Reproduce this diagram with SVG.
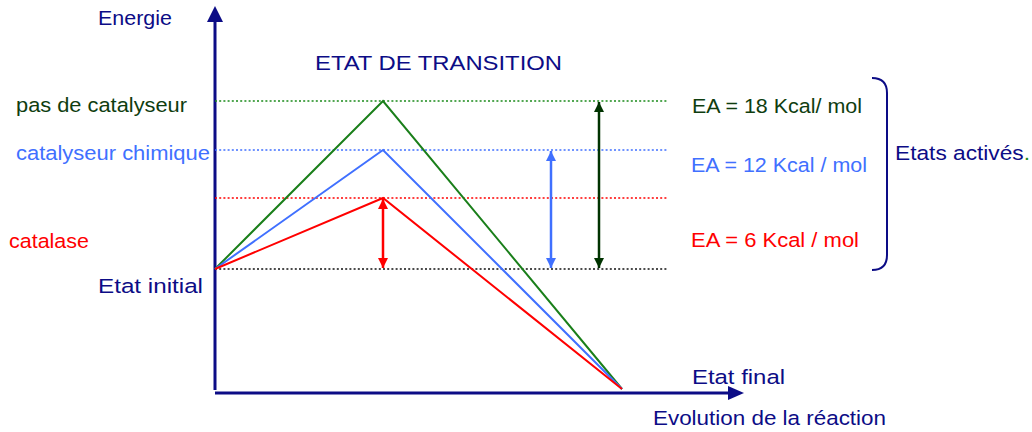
<svg xmlns="http://www.w3.org/2000/svg" width="1032" height="432" viewBox="0 0 1032 432">
<style>
text{font-family:"Liberation Sans","DejaVu Sans",sans-serif;font-size:20.5px}
.navy{fill:#0c0c86}.dg{fill:#0f3d0f}.bl{fill:#4070ff}.rd{fill:#ff0000}
.dot{stroke-width:1.6;stroke-dasharray:2,2.2;fill:none}
.ln{stroke-width:2;fill:none}
</style>
<defs>
<marker id="ar" viewBox="0 0 10 10" refX="10" refY="5" markerWidth="10" markerHeight="10" markerUnits="userSpaceOnUse" orient="auto-start-reverse"><path d="M0,0L10,5L0,10z" fill="#ff0000"/></marker>
<marker id="ab" viewBox="0 0 10 10" refX="10" refY="5" markerWidth="10" markerHeight="10" markerUnits="userSpaceOnUse" orient="auto-start-reverse"><path d="M0,0L10,5L0,10z" fill="#4070ff"/></marker>
<marker id="ag" viewBox="0 0 10 10" refX="10" refY="5" markerWidth="10" markerHeight="10" markerUnits="userSpaceOnUse" orient="auto-start-reverse"><path d="M0,0L10,5L0,10z" fill="#003300"/></marker>
</defs>
<g id="axes">
<line x1="215" y1="20" x2="215" y2="390" stroke="#0c0c86" stroke-width="3"/>
<path d="M215,6L223,22L207,22z" fill="#0c0c86"/>
<line x1="215" y1="393" x2="730" y2="393" stroke="#0c0c86" stroke-width="3"/>
<path d="M744,393L728,386L728,400z" fill="#0c0c86"/>
</g>
<g id="connectors">
<line class="dot" x1="215" y1="101" x2="668" y2="101" stroke="#1a8a1a"/>
<line class="dot" x1="215" y1="150" x2="668" y2="150" stroke="#4070ff"/>
<line class="dot" x1="215" y1="198" x2="668" y2="198" stroke="#ff0000"/>
<line class="dot" x1="215" y1="269" x2="668" y2="269" stroke="#111111"/>
<polyline class="ln" points="215,269 383,101 622,389" stroke="#1a7f1a"/>
<polyline class="ln" points="215,269 383,150 622,389" stroke="#4070ff"/>
<polyline class="ln" points="215,269 383,198 622,389" stroke="#ff0000"/>
<line x1="383" y1="199" x2="383" y2="268" stroke="#ff0000" stroke-width="2.5" marker-start="url(#ar)" marker-end="url(#ar)"/>
<line x1="551" y1="151" x2="551" y2="268" stroke="#4070ff" stroke-width="2.5" marker-start="url(#ab)" marker-end="url(#ab)"/>
<line x1="599" y1="102" x2="599" y2="268" stroke="#003300" stroke-width="2.5" marker-start="url(#ag)" marker-end="url(#ag)"/>
<path d="M872,78Q887,78 887,93L887,255Q887,270 872,270" fill="none" stroke="#0c0c86" stroke-width="2"/>
</g>
<g id="labels">
<text class="navy" x="98" y="25" textLength="74" lengthAdjust="spacingAndGlyphs">Energie</text>
<text class="navy" x="315" y="70" textLength="247" lengthAdjust="spacingAndGlyphs">ETAT DE TRANSITION</text>
<text class="dg" x="16" y="112" textLength="171" lengthAdjust="spacingAndGlyphs">pas de catalyseur</text>
<text class="bl" x="16" y="160" textLength="194" lengthAdjust="spacingAndGlyphs">catalyseur chimique</text>
<text class="rd" x="9" y="248" textLength="80" lengthAdjust="spacingAndGlyphs">catalase</text>
<text class="navy" x="98" y="293" textLength="105" lengthAdjust="spacingAndGlyphs">Etat initial</text>
<text class="dg" x="692" y="113" textLength="170" lengthAdjust="spacingAndGlyphs">EA = 18 Kcal/ mol</text>
<text class="bl" x="691" y="172" textLength="176" lengthAdjust="spacingAndGlyphs">EA = 12 Kcal / mol</text>
<text class="rd" x="691" y="247" textLength="168" lengthAdjust="spacingAndGlyphs">EA = 6 Kcal / mol</text>
<text class="navy" x="895" y="160" textLength="135" lengthAdjust="spacingAndGlyphs">Etats activés<tspan fill="#1a8a1a">.</tspan></text>
<text class="navy" x="692" y="384" textLength="93" lengthAdjust="spacingAndGlyphs">Etat final</text>
<text class="navy" x="653" y="425" textLength="233" lengthAdjust="spacingAndGlyphs">Evolution de la réaction</text>
</g>
</svg>
